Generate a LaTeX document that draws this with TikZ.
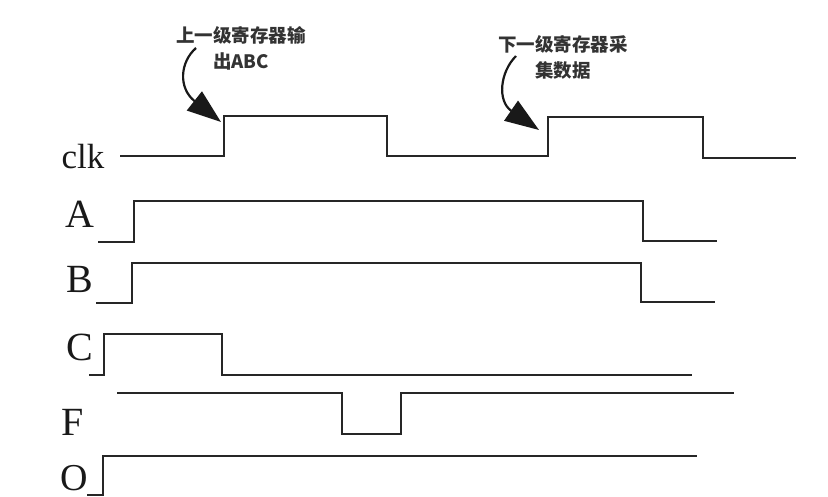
\documentclass[tikz,border=0pt]{standalone}
\usepackage{fontspec}
\setmainfont{Liberation Serif}
\newfontfamily\cjk{Noto Sans CJK SC}
\usetikzlibrary{arrows.meta}
\begin{document}
\begin{tikzpicture}[x=1pt,y=-1pt,
  wave/.style={line width=2pt,draw=black!85,line join=miter},
  siglabel/.style={font=\fontsize{40}{40}\selectfont,anchor=base,inner sep=0pt,text=black!90},
  note/.style={font=\cjk\bfseries\fontsize{18.5}{26}\selectfont,inner sep=0pt,text=black!80,align=center},
  pointer/.style={line width=2.2pt,draw=black!90,-{Triangle[length=34pt,width=24pt]}}]
\useasboundingbox (0,0) rectangle (828,497);
% labels
\node[siglabel,font=\fontsize{35}{35}\selectfont] (lclk) at (83,169) {clk};
\node[siglabel] (lA) at (80,228) {A};
\node[siglabel] (lB) at (80,293) {B};
\node[siglabel] (lC) at (80,360) {C};
\node[siglabel] (lF) at (73,435) {F};
\node[siglabel,font=\fontsize{38}{38}\selectfont] (lO) at (74,490) {O};
% waveforms
\draw[wave] (120,156) -- (224,156) -- (224,116) -- (387,116) -- (387,156) -- (548,156) -- (548,117) -- (703,117) -- (703,158) -- (796,158);
\draw[wave] (98,242) -- (134,242) -- (134,201) -- (643,201) -- (643,241) -- (717,241);
\draw[wave] (96,303) -- (132,303) -- (132,263) -- (641,263) -- (641,302) -- (715,302);
\draw[wave] (89,375) -- (104,375) -- (104,334) -- (222,334) -- (222,375) -- (692,375);
\draw[wave] (117,393) -- (342,393) -- (342,434) -- (401,434) -- (401,393) -- (734,393);
\draw[wave] (87,495) -- (103,495) -- (103,456) -- (697,456);
% notes
\node[note] (n1) at (241,48) {上一级寄存器输\\出ABC};
\node[note] (n2) at (563,57) {下一级寄存器采\\集数据};
\coordinate (s1) at (196,48);
\coordinate (t1) at (221,122);
\coordinate (s2) at (516,56);
\coordinate (t2) at (539,130);
\draw[pointer] (s1) .. controls (180,62) and (178,88) .. (t1);
\draw[pointer] (s2) .. controls (500,72) and (497,101) .. (t2);
\end{tikzpicture}
\end{document}
